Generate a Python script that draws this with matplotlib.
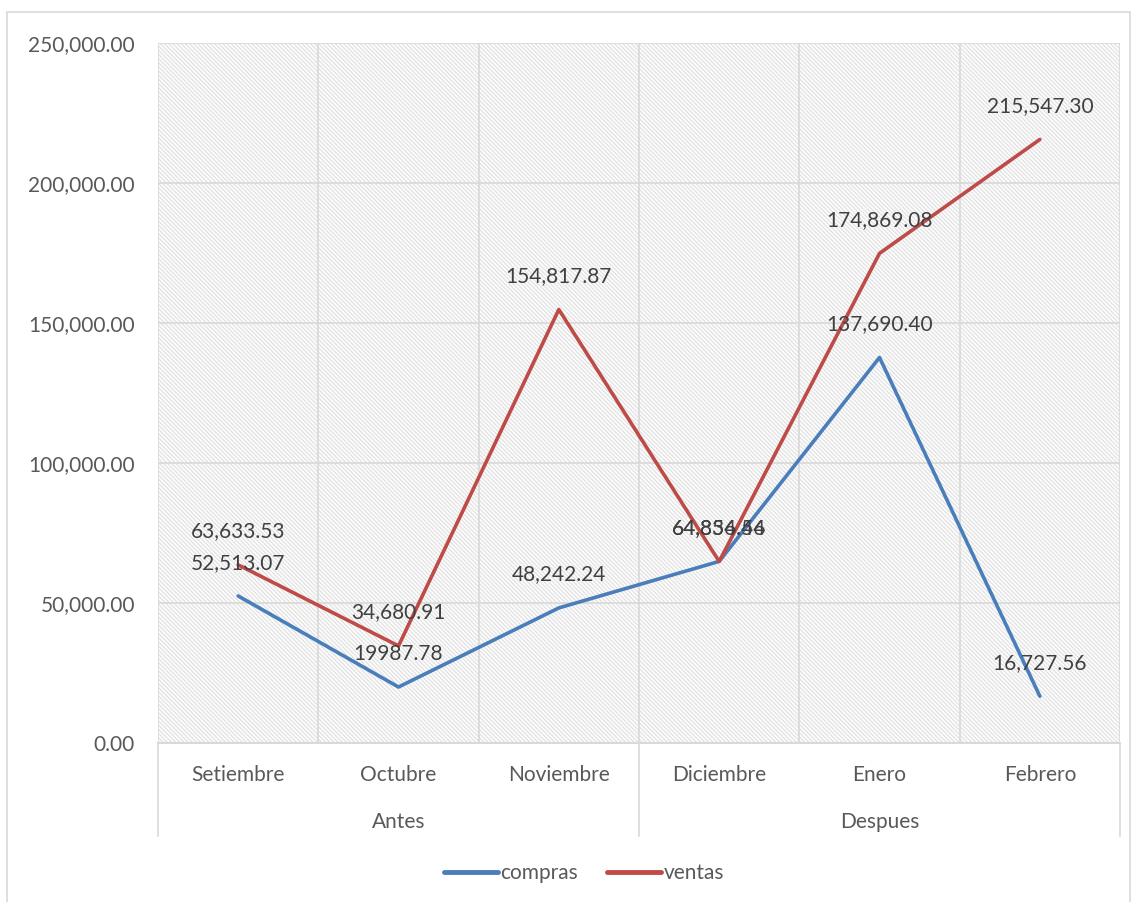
import matplotlib.pyplot as plt
from matplotlib.patches import Rectangle
from matplotlib.lines import Line2D
import numpy as np

plt.rcParams['font.family'] = ['Lato', 'DejaVu Sans']

# --- Data ---
months = ["Setiembre", "Octubre", "Noviembre", "Diciembre", "Enero", "Febrero"]
groups = ["Antes", "Despues"]
group_sizes = [3, 3]
compras = [52513.07, 19987.78, 48242.24, 64856.44, 137690.40, 16727.56]
ventas = [63633.53, 34680.91, 154817.87, 64834.56, 174869.08, 215547.30]
compras_labels = ["52,513.07", "19987.78", "48,242.24", "64,856.44", "137,690.40", "16,727.56"]
ventas_labels = ["63,633.53", "34,680.91", "154,817.87", "64,834.56", "174,869.08", "215,547.30"]
yticks = [0, 50000, 100000, 150000, 200000, 250000]

blue = "#4A7EBB"
red = "#BE4B48"
grid = "#D9D9D9"
txt = "#595959"
fs = 15

W, H = 1136, 902
fig = plt.figure(figsize=(W / 100, H / 100), dpi=100)
fig.patch.set_facecolor("white")
fig.patches.append(Rectangle((7 / W, -0.01), (1130 - 7) / W, 1.01 - 12 / H, transform=fig.transFigure,
                             fill=False, edgecolor=grid, linewidth=1.2))

ax = fig.add_axes([158 / W, (H - 743) / H, 962 / W, 700 / H])
plt.rcParams['hatch.color'] = "#E3E3E3"
plt.rcParams['hatch.linewidth'] = 1.0
ax.add_patch(Rectangle((0, 0), 1, 1, transform=ax.transAxes, facecolor="white",
                       edgecolor="#E3E3E3", hatch="\\" * 8, linewidth=0, zorder=0))

x = np.arange(len(months)) + 0.5
ax.set_xlim(0, len(months))
ax.set_ylim(0, 250000)

# grid
for yv in yticks:
    ax.axhline(yv, color=grid, linewidth=1.2, zorder=1)
for xv in range(len(months) + 1):
    ax.axvline(xv, color=grid, linewidth=1.2, zorder=1)

ax.plot(x, compras, color=blue, linewidth=2.6, solid_capstyle="round", zorder=3)
ax.plot(x, ventas, color=red, linewidth=2.6, solid_capstyle="round", zorder=3)

for xi, v, s in zip(x, compras, compras_labels):
    ax.annotate(s, (xi, v), xytext=(0, 24), textcoords="offset points",
                ha="center", va="center", fontsize=fs, color="#404040", zorder=4)
for xi, v, s in zip(x, ventas, ventas_labels):
    ax.annotate(s, (xi, v), xytext=(0, 24), textcoords="offset points",
                ha="center", va="center", fontsize=fs, color="#404040", zorder=4)

ax.set_yticks(yticks)
ax.set_yticklabels([f"{v:,.2f}" for v in yticks])
ax.tick_params(axis="y", length=0, pad=16.5, labelsize=fs, labelcolor=txt)
ax.set_xticks([])
for sp in ax.spines.values():
    sp.set_visible(False)

# category axis (two levels)
trans = ax.get_xaxis_transform()
ax.plot([0, len(months)], [0, 0], color=grid, linewidth=1.5, transform=trans, clip_on=False)
for xi, m in zip(x, months):
    ax.text(xi, -32 / 700, m, transform=trans, ha="center", va="center",
            fontsize=fs, color=txt)
start = 0
bounds = [0]
for g, n in zip(groups, group_sizes):
    ax.text(start + n / 2, -79 / 700, g, transform=trans, ha="center", va="center",
            fontsize=fs, color=txt)
    start += n
    bounds.append(start)
for b in bounds:
    ax.plot([b, b], [0, -93 / 700], color=grid, linewidth=1.2, transform=trans, clip_on=False)

handles = [Line2D([], [], color=blue, linewidth=3.5, solid_capstyle="round"),
           Line2D([], [], color=red, linewidth=3.5, solid_capstyle="round")]
fig.legend(handles, ["compras", "ventas"], loc="center", bbox_to_anchor=(584 / W, 1 - 873 / H),
           ncol=2, frameon=False, fontsize=fs, handlelength=2.6, handletextpad=0.1,
           columnspacing=1.4, labelcolor=txt)

fig.savefig("out.png", dpi=100, facecolor="white")
